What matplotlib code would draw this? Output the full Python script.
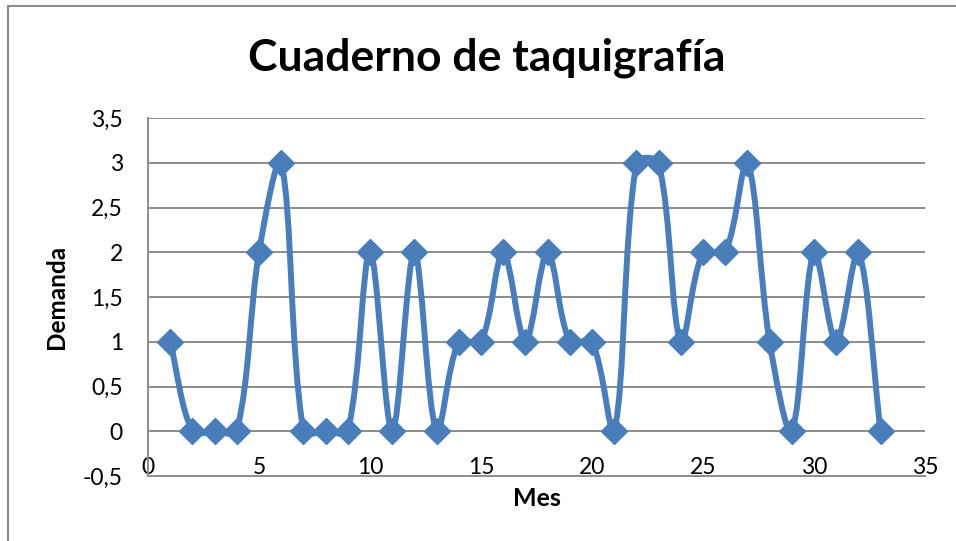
import matplotlib.pyplot as plt
import numpy as np
from matplotlib.path import Path
from matplotlib.patches import PathPatch, Rectangle

plt.rcParams["font.family"] = ["Lato", "DejaVu Sans"]

mes = list(range(1, 34))
demanda = [1, 0, 0, 0, 2, 3, 0, 0, 0, 2, 0, 2, 0, 1, 1, 2, 1, 2, 1, 1, 0,
           3, 3, 1, 2, 2, 3, 1, 0, 2, 1, 2, 0]
y_ticks = [-0.5, 0, 0.5, 1, 1.5, 2, 2.5, 3, 3.5]
x_ticks = [0, 5, 10, 15, 20, 25, 30, 35]

BLUE = "#4A7EBB"
GRID = "#8C8C8C"


def smooth_path(ax, x, y, t=1 / 3):
    # bezier segments like Excel's "smoothed line", worked out in pixels
    pts = ax.transData.transform(np.column_stack([x, y]).astype(float))
    n = len(pts)
    verts = [pts[0]]
    codes = [Path.MOVETO]
    for i in range(n - 1):
        p0 = pts[i - 1] if i > 0 else pts[i]
        p1 = pts[i]
        p2 = pts[i + 1]
        p3 = pts[i + 2] if i + 2 < n else pts[i + 1]
        d01 = np.hypot(*(p1 - p0))
        d12 = np.hypot(*(p2 - p1))
        d23 = np.hypot(*(p3 - p2))
        w1 = d12 / (d01 + d12) if d01 + d12 > 0 else 0
        w2 = d12 / (d12 + d23) if d12 + d23 > 0 else 0
        c1 = p1 + (p2 - p0) * t * w1
        c2 = p2 - (p3 - p1) * t * w2
        verts += [c1, c2, p2]
        codes += [Path.CURVE4] * 3
    verts = ax.transData.inverted().transform(np.array(verts))
    return Path(verts, codes)


fig = plt.figure(figsize=(9.56, 5.41), dpi=100)
fig.patches.append(Rectangle((8 / 956, -0.1), 1.2, 1 - 6 / 541 + 0.1,
                             transform=fig.transFigure, fill=False,
                             edgecolor="#8C8C8C", linewidth=1.5))

ax = fig.add_axes([148 / 956, 1 - 476 / 541, 777 / 956, 358 / 541])
ax.set_xlim(0, 35)
ax.set_ylim(-0.5, 3.5)

for v in y_ticks[1:]:
    ax.axhline(v, color=GRID, linewidth=1.4, zorder=1)

ax.add_patch(PathPatch(smooth_path(ax, mes, demanda), facecolor="none",
                       edgecolor=BLUE, linewidth=4.3, zorder=3,
                       capstyle="round", joinstyle="round"))
ax.plot(mes, demanda, linestyle="none", marker="D", markersize=13,
        color=BLUE, zorder=4)

for s in ["top", "right"]:
    ax.spines[s].set_visible(False)
for s in ["left", "bottom"]:
    ax.spines[s].set_color(GRID)
    ax.spines[s].set_linewidth(1.4)

ax.set_yticks(y_ticks)
ax.set_yticklabels([f"{v:g}".replace(".", ",") for v in y_ticks])
ax.set_xticks(x_ticks)
ax.set_xticklabels([str(v) for v in x_ticks])
ax.tick_params(axis="y", length=0, pad=18, labelsize=16.5)
ax.tick_params(axis="x", length=0, pad=-14, labelsize=16.5)

fig.text(537 / 956, 1 - 499 / 541, "Mes", fontsize=18, fontweight="bold",
         ha="center", va="center")
fig.text(57 / 956, 1 - 297 / 541, "Demanda", fontsize=17.5, fontweight="bold",
         ha="center", va="center", rotation=90)
fig.text(487 / 956, 1 - 58 / 541, "Cuaderno de taquigrafía", fontsize=32,
         fontweight="bold", ha="center", va="center")

fig.savefig("out.png", dpi=100)
